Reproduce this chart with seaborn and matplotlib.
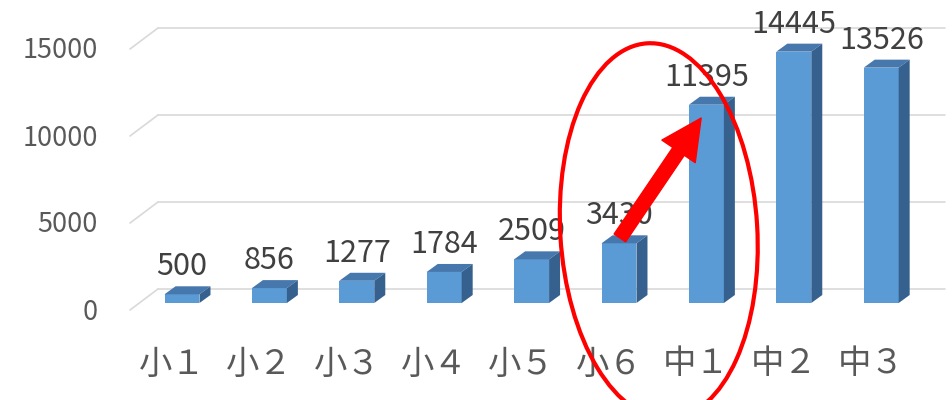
import numpy as np
import pandas as pd
import matplotlib
matplotlib.use("Agg")
import matplotlib.pyplot as plt
import matplotlib.transforms as mtransforms
from matplotlib.patches import Polygon, Ellipse
from matplotlib.lines import Line2D
import seaborn as sns

grades = ["小１", "小２", "小３", "小４", "小５", "小６", "中１", "中２", "中３"]
values = [500, 856, 1277, 1784, 2509, 3430, 11395, 14445, 13526]
yticks = [0, 5000, 10000, 15000]

FRONT = "#5B9BD5"
TOP = "#4677AD"
SIDE = "#36618E"
GRID = "#D9D9D9"


def main():
    sns.set_style("white")
    plt.rcParams["font.family"] = ["Noto Sans CJK JP", "DejaVu Sans"]

    fig = plt.figure(figsize=(9.53, 4.0), dpi=100)
    ax = fig.add_axes([130 / 953, 97 / 400, 815 / 953, 295.8 / 400])

    df = pd.DataFrame({"grade": grades, "value": values})
    sns.barplot(data=df, x="grade", y="value", color=FRONT, saturation=1,
                width=0.4, ax=ax, zorder=3, edgecolor="none", linewidth=0)

    ax.set_xlim(-0.595, 8.73)
    ax.set_ylim(0, 17000)
    for s in ax.spines.values():
        s.set_visible(False)
    ax.set_xticks([])
    ax.set_yticks([])
    ax.set_xlabel("")
    ax.set_ylabel("")

    px = lambda dx, dy: mtransforms.ScaledTranslation(dx / 100, dy / 100, fig.dpi_scale_trans)
    blend = mtransforms.blended_transform_factory(ax.transAxes, ax.transData)

    # back-wall gridlines with slanted left edge
    for v in yticks:
        x0, y0 = blend.transform((0, v))
        ax.add_line(Line2D([x0, x0 + 28], [y0 - 7, y0 + 14],
                           transform=mtransforms.IdentityTransform(),
                           color=GRID, lw=1.2, clip_on=False, zorder=1))
        ax.add_line(Line2D([x0 + 28, x0 + 815], [y0 + 14, y0 + 14],
                           transform=mtransforms.IdentityTransform(),
                           color=GRID, lw=1.2, clip_on=False, zorder=1))
        ax.text(0, v, f"{v}", transform=blend + px(-32, -9), ha="right",
                va="center", fontsize=19.5, color="#595959")

    # 3D faces for each bar
    dx, dy = 11, 8
    for p in list(ax.patches):
        (xa, ya), (xb, yb) = ax.transData.transform(
            [(p.get_x(), p.get_y()), (p.get_x() + p.get_width(), p.get_y() + p.get_height())])
        top = Polygon([(xa, yb), (xb, yb), (xb + dx, yb + dy), (xa + dx, yb + dy)],
                      closed=True, facecolor=TOP, edgecolor="none",
                      transform=mtransforms.IdentityTransform(), zorder=3)
        side = Polygon([(xb, ya), (xb + dx, ya + dy), (xb + dx, yb + dy), (xb, yb)],
                       closed=True, facecolor=SIDE, edgecolor="none",
                       transform=mtransforms.IdentityTransform(), zorder=3)
        ax.add_patch(top)
        ax.add_patch(side)

    # value labels
    for i, v in enumerate(values):
        ax.annotate(f"{v}", xy=(i, v), xytext=(0, 19 * 0.72), textcoords="offset points",
                    ha="center", va="baseline", fontsize=22, color="#404040",
                    zorder=5, annotation_clip=False)

    # category labels
    for i, g in enumerate(grades):
        ax.text(i, 0, g, transform=ax.transData + px(-10, -61), ha="center",
                va="center", fontsize=24, color="#595959")

    # red highlight: ellipse and arrow from 小６ to 中１
    etrans = fig.dpi_scale_trans + mtransforms.ScaledTranslation(5.455, 4140, ax.transData)
    ax.add_patch(Ellipse((0, 0), width=1.97, height=3.76, angle=3.5, transform=etrans,
                         fill=False, edgecolor="#FF0000", lw=3.0, clip_on=False, zorder=6))
    ax.annotate("", xy=(5.94, 10630), xytext=(5.01, 3740),
                arrowprops=dict(arrowstyle="simple,head_width=2.9,head_length=2.9,tail_width=1.0",
                                mutation_scale=10, color="#FF0000", shrinkA=0, shrinkB=0),
                zorder=7, annotation_clip=False)

    fig.savefig("out.png", dpi=100)


if __name__ == "__main__":
    main()
